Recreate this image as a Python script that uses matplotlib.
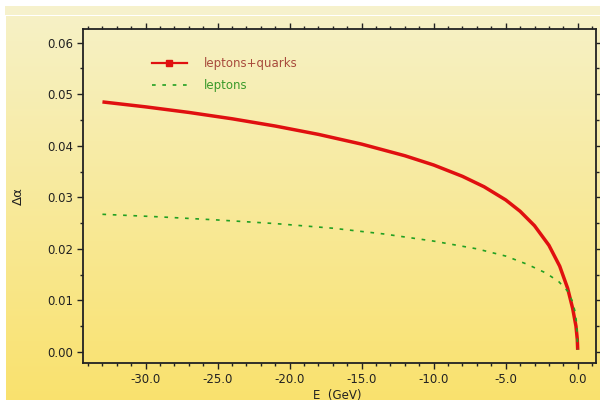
import numpy as np
import matplotlib
matplotlib.use("Agg")
import matplotlib.pyplot as plt
from matplotlib.lines import Line2D
from matplotlib.ticker import MultipleLocator, FormatStrFormatter

# data
E_red = [-33.0, -30.0, -27.0, -24.0, -21.0, -18.0, -15.0, -12.0, -10.0, -8.0, -6.5,
         -5.0, -4.0, -3.0, -2.0, -1.25, -0.7, -0.35, -0.12, -0.03, 0.0]
alpha_red = [0.0485, 0.04754, 0.04646, 0.04523, 0.04382, 0.0422, 0.04031, 0.03806,
             0.03626, 0.03406, 0.03204, 0.02949, 0.02729, 0.02449, 0.02069, 0.01664,
             0.01235, 0.00843, 0.00498, 0.00246, 0.0004]
E_green = [-33.0, -29.0, -25.0, -21.0, -17.0, -13.5, -10.0, -7.0, -5.0, -3.5, -2.2,
           -1.3, -0.7, -0.4, -0.2, -0.07, 0.0]
alpha_green = [0.0267, 0.0262, 0.0256, 0.0249, 0.0240, 0.0229, 0.0215, 0.0200, 0.0186,
               0.0170, 0.0153, 0.0136, 0.0118, 0.0100, 0.0080, 0.0055, 0.0005]
labels = ["leptons+quarks", "leptons"]

W, H = 600, 400
fig = plt.figure(figsize=(6, 4), dpi=100)
fig.patch.set_facecolor("white")

# pale top band
band = fig.add_axes([5 / W, (H - 15) / H, 595 / W, 9 / H])
band.set_facecolor("#f6f1cc")
band.set_xticks([]); band.set_yticks([])
for s in band.spines.values():
    s.set_visible(False)

# gradient panel
bg = fig.add_axes([6 / W, 0, 594 / W, (H - 16) / H])
top = np.array([0.965, 0.945, 0.775])
bot = np.array([0.980, 0.885, 0.430])
t = np.linspace(0, 1, 256)[:, None]
grad = top[None, :] * (1 - t) + bot[None, :] * t
bg.imshow(grad[:, None, :], aspect="auto", extent=[0, 1, 0, 1], origin="upper")
bg.set_xticks([]); bg.set_yticks([])
for s in bg.spines.values():
    s.set_visible(False)

ax = fig.add_axes([83 / W, (H - 363.3) / H, (596 - 83) / W, (363.3 - 28.7) / H])
ax.set_facecolor("none")

ax.plot(E_red, alpha_red, color="#e01010", lw=2.5, solid_capstyle="butt",
        solid_joinstyle="round", zorder=3)
ax.plot(E_green, alpha_green, color="#22a022", lw=1.2, dashes=(2.2, 4.0), zorder=4)

ax.set_xlim(-34.35, 1.27)
ax.set_ylim(-0.0022, 0.0627)

ax.xaxis.set_major_locator(MultipleLocator(5))
ax.xaxis.set_minor_locator(MultipleLocator(1))
ax.yaxis.set_major_locator(MultipleLocator(0.01))
ax.yaxis.set_minor_locator(MultipleLocator(0.005))
ax.xaxis.set_major_formatter(FormatStrFormatter("%.1f"))
ax.yaxis.set_major_formatter(FormatStrFormatter("%.2f"))

ax.tick_params(which="both", direction="out", top=True, right=True,
               colors="#222222", width=1.0)
ax.tick_params(which="major", length=4, labelsize=8.5, pad=3)
ax.tick_params(which="minor", length=2.2)
for s in ax.spines.values():
    s.set_linewidth(1.3)
    s.set_color("#222222")

handles = [Line2D([], [], color="#e01010", lw=1.6, marker="s", markersize=5),
           Line2D([], [], color="#22a022", lw=1.2, dashes=(2.2, 4.0))]
leg = ax.legend(handles, labels, loc="upper left", bbox_to_anchor=(0.113, 0.948),
                frameon=False, fontsize=8.5, handlelength=3.0, handletextpad=1.4,
                labelspacing=0.8)
leg.get_texts()[0].set_color("#a84a3c")
leg.get_texts()[1].set_color("#3a9a2a")

fig.text(18 / W, 1 - 196 / H, "Δα", rotation=90, ha="center", va="center",
         fontsize=9.5, color="#222222")
fig.text(313 / W, 1 - 395 / H, "E  (GeV)", ha="left", va="center",
         fontsize=8.5, color="#222222")

fig.savefig("out.png", dpi=100)
